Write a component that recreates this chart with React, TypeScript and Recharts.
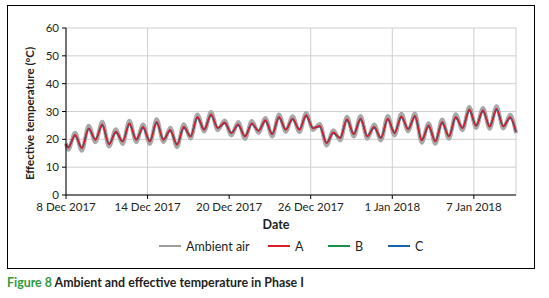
import { LineChart, Line, XAxis, YAxis, CartesianGrid, Legend } from "recharts";

// days since 8 Dec 2017 for axis ticks
const tickDays = [0, 6, 12, 18, 24, 30];
const tickLabels = ["8 Dec 2017", "14 Dec 2017", "20 Dec 2017", "26 Dec 2017", "1 Jan 2018", "7 Jan 2018"];
const yTicks = [0, 10, 20, 30, 40, 50, 60];

// daily minimum (~04:00) and maximum (~16:00) readings, one per day from 8 Dec
const ambientLow = [16.3, 15.9, 19.0, 17.4, 18.3, 19.0, 18.4, 19.0, 17.2, 20.3, 22.8, 23.3, 21.4, 20.2, 22.3, 21.0, 22.7, 22.6, 23.4, 17.8, 19.6, 21.0, 20.2, 19.6, 21.4, 22.9, 18.8, 18.4, 20.2, 23.3, 24.1, 23.8, 23.9];
const ambientHigh = [22.4, 24.9, 26.3, 23.6, 26.7, 25.3, 27.2, 24.2, 25.4, 28.9, 29.8, 26.8, 26.2, 26.6, 27.7, 28.9, 28.3, 29.5, 25.5, 23.3, 28.1, 28.4, 25.3, 28.4, 29.2, 29.3, 25.8, 27.1, 29.0, 31.6, 31.3, 31.9, 28.8];
const aLow = [17.0, 16.8, 19.8, 18.2, 19.2, 19.8, 19.2, 19.8, 18.0, 21.0, 23.4, 24.0, 22.2, 21.0, 23.0, 21.8, 23.4, 23.4, 24.0, 18.6, 20.4, 21.8, 21.0, 20.4, 22.2, 23.6, 19.6, 19.2, 21.0, 24.0, 24.8, 24.5, 24.6];
const aHigh = [21.6, 24.0, 25.4, 22.8, 25.8, 24.5, 26.3, 23.4, 24.5, 28.1, 29.0, 26.1, 25.4, 25.8, 26.9, 28.1, 27.5, 28.7, 24.9, 22.5, 27.3, 27.5, 24.5, 27.5, 28.3, 28.5, 25.0, 26.3, 28.1, 30.8, 30.5, 31.0, 28.0];
const bLow = [17.1, 16.9, 19.9, 18.3, 19.3, 19.9, 19.3, 19.9, 18.1, 21.1, 23.5, 24.1, 22.3, 21.1, 23.1, 21.9, 23.5, 23.5, 24.1, 18.7, 20.5, 21.9, 21.1, 20.5, 22.3, 23.7, 19.7, 19.3, 21.1, 24.1, 24.9, 24.6, 24.7];
const bHigh = [21.4, 23.8, 25.2, 22.6, 25.6, 24.3, 26.1, 23.2, 24.3, 27.9, 28.8, 25.9, 25.2, 25.6, 26.7, 27.9, 27.3, 28.5, 24.7, 22.3, 27.1, 27.3, 24.3, 27.3, 28.1, 28.3, 24.8, 26.1, 27.9, 30.6, 30.3, 30.8, 27.8];
const cLow = [17.2, 17.0, 20.0, 18.4, 19.4, 20.0, 19.4, 20.0, 18.2, 21.2, 23.6, 24.2, 22.4, 21.2, 23.2, 22.0, 23.6, 23.6, 24.2, 18.8, 20.6, 22.0, 21.2, 20.6, 22.4, 23.8, 19.8, 19.4, 21.2, 24.2, 25.0, 24.7, 24.8];
const cHigh = [21.3, 23.6, 25.0, 22.4, 25.4, 24.1, 25.9, 23.0, 24.1, 27.7, 28.6, 25.7, 25.0, 25.4, 26.5, 27.7, 27.1, 28.3, 24.5, 22.1, 26.9, 27.1, 24.1, 27.1, 27.9, 28.1, 24.6, 25.9, 27.7, 30.4, 30.1, 30.6, 27.6];

// first and last readings of the period
const startValues = { ambient: 18.6, a: 18.2, b: 18.2, c: 18.3 };
const endValues = { ambient: 22.2, a: 22.6, b: 22.7, c: 22.8 };
const endDay = 33.1;

const LOW_HOUR = 4 / 24;
const HIGH_HOUR = 16 / 24;

const data: any[] = [{ t: 0, ...startValues }];
aLow.forEach((_, d) => {
  data.push({ t: d + LOW_HOUR, ambient: ambientLow[d], a: aLow[d], b: bLow[d], c: cLow[d] });
  data.push({ t: d + HIGH_HOUR, ambient: ambientHigh[d], a: aHigh[d], b: bHigh[d], c: cHigh[d] });
});
data.push({ t: endDay, ...endValues });

const FONT = "Lato, 'Open Sans', sans-serif";
const TEXT = "#231f20";

const legendItems = [
  { name: "Ambient air", color: "#9d9d9d", left: 159 },
  { name: "A", color: "#d7202b", left: 268 },
  { name: "B", color: "#17904a", left: 328 },
  { name: "C", color: "#1b62ad", left: 388 },
];

function LegendRow() {
  return (
    <div style={{ position: "relative", width: 549, height: 18, fontFamily: FONT, fontSize: 12.5, color: TEXT }}>
      {legendItems.map((it) => (
        <div key={it.name} style={{ position: "absolute", left: it.left, top: 0, height: 18, display: "flex", alignItems: "center" }}>
          <span style={{ display: "inline-block", width: 22, height: 2, background: it.color, marginRight: 5 }} />
          <span>{it.name}</span>
        </div>
      ))}
    </div>
  );
}

export default function App() {
  return (
    <div style={{ position: "absolute", left: 0, top: 0, width: 549, height: 298, background: "#fff" }}>
      <div style={{ position: "absolute", left: 7, top: 5, width: 526, height: 262, border: "1px solid #000" }} />
      <div style={{ position: "absolute", left: 0, top: 0 }}>
        <LineChart width={549} height={260} data={data} margin={{ top: 28, right: 33, bottom: 5, left: 0 }}>
          <CartesianGrid stroke="#cfcfcf" strokeWidth={1} />
          <XAxis
            dataKey="t"
            type="number"
            domain={[0, endDay]}
            ticks={tickDays}
            tickFormatter={(v: number) => tickLabels[tickDays.indexOf(v)] ?? ""}
            height={42}
            stroke="#000"
            tickSize={4}
            tickMargin={4}
            tick={{ fill: TEXT, fontSize: 11.5, fontFamily: FONT }}
            label={{ value: "Date", position: "insideTop", offset: 25, fill: TEXT, fontSize: 12.5, fontWeight: 700, fontFamily: FONT, dx: -15 }}
          />
          <XAxis xAxisId="top" orientation="top" type="number" domain={[0, endDay]} height={0} tick={false} tickLine={false} stroke="#000" />
          <YAxis
            type="number"
            domain={[0, 60]}
            ticks={yTicks}
            width={66}
            stroke="#000"
            tickSize={4}
            tickMargin={3}
            tick={{ fill: TEXT, fontSize: 11.5, fontFamily: FONT }}
            label={{ value: "Effective temperature (°C)", angle: -90, position: "center", dx: -3, dy: 2, fill: TEXT, fontSize: 11.5, fontWeight: 700, fontFamily: FONT }}
          />
          <YAxis yAxisId="right" orientation="right" domain={[0, 60]} width={0} tick={false} tickLine={false} stroke="#000" />
          <Legend verticalAlign="bottom" content={() => <LegendRow />} />
          <Line dataKey="ambient" name="Ambient air" type="monotone" stroke="#a8a8a8" strokeWidth={4} dot={false} isAnimationActive={false} />
          <Line dataKey="b" name="B" type="monotone" stroke="#17904a" strokeWidth={1.5} dot={false} isAnimationActive={false} />
          <Line dataKey="c" name="C" type="monotone" stroke="#1b62ad" strokeWidth={1.6} dot={false} isAnimationActive={false} />
          <Line dataKey="a" name="A" type="monotone" stroke="#d7202b" strokeWidth={1.6} dot={false} isAnimationActive={false} />
        </LineChart>
      </div>
      <div style={{ position: "absolute", left: 7, top: 275, fontFamily: FONT, fontSize: 12.4, fontWeight: 700, color: TEXT, whiteSpace: "nowrap" }}>
        <span style={{ color: "#2f9a3e" }}>Figure 8</span> Ambient and effective temperature in Phase I
      </div>
    </div>
  );
}
